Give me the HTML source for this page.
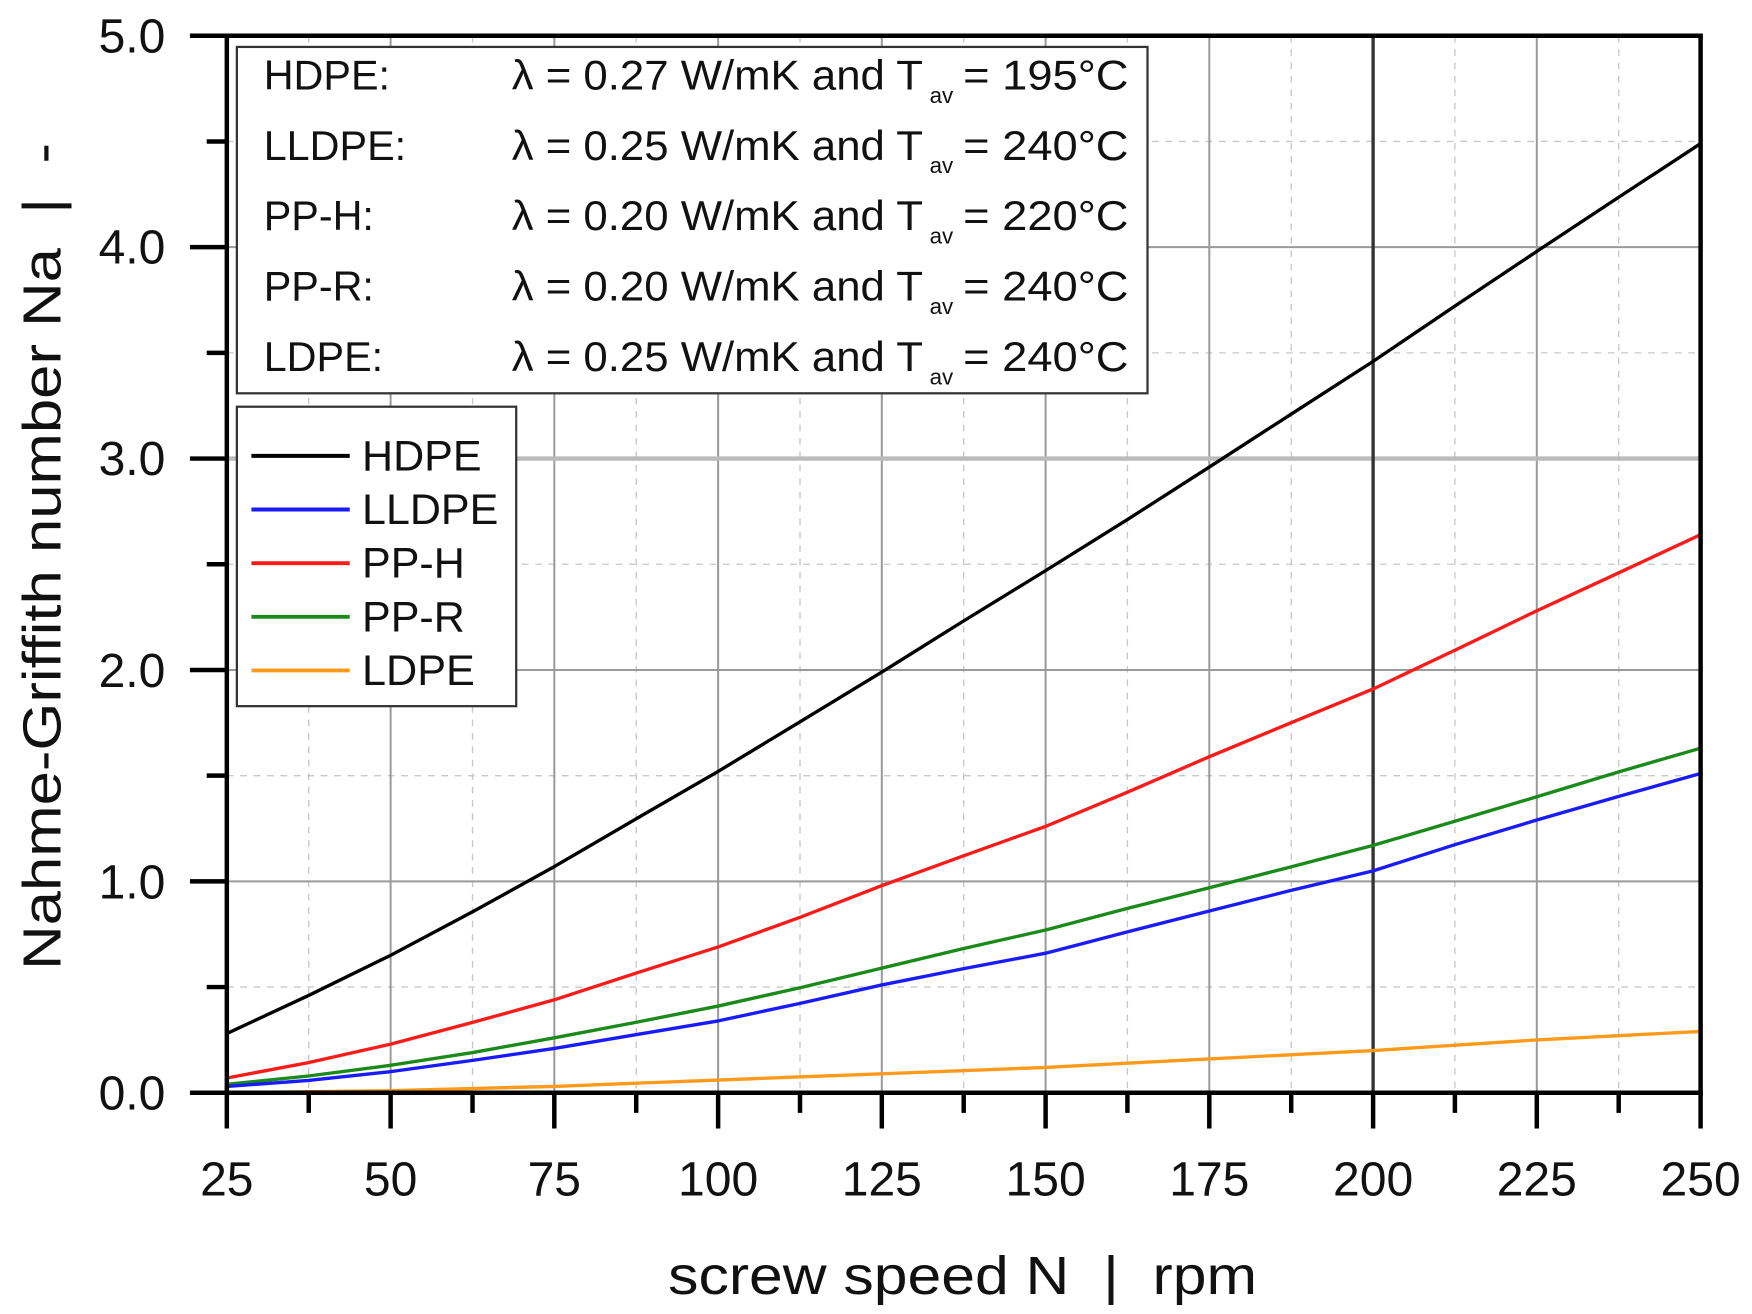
<!DOCTYPE html>
<html><head><meta charset="utf-8"><style>
html,body{margin:0;padding:0;background:#fff;}
svg{display:block;}
text{font-family:"Liberation Sans",Arial,sans-serif;fill:#111;white-space:pre;}
</style></head><body>
<svg width="1752" height="1314" viewBox="0 0 1568 1176" xmlns="http://www.w3.org/2000/svg">
<rect width="1568" height="1176" fill="#fff"/>
<g stroke="#c8c8c8" stroke-width="1.2" stroke-dasharray="6,6">
<line x1="276.3" y1="32" x2="276.3" y2="978"/><line x1="422.9" y1="32" x2="422.9" y2="978"/><line x1="569.4" y1="32" x2="569.4" y2="978"/><line x1="716" y1="32" x2="716" y2="978"/><line x1="862.5" y1="32" x2="862.5" y2="978"/><line x1="1009" y1="32" x2="1009" y2="978"/><line x1="1155.6" y1="32" x2="1155.6" y2="978"/><line x1="1302.1" y1="32" x2="1302.1" y2="978"/><line x1="1448.7" y1="32" x2="1448.7" y2="978"/>
<line x1="203" y1="883.4" x2="1522" y2="883.4"/><line x1="203" y1="694.2" x2="1522" y2="694.2"/><line x1="203" y1="505" x2="1522" y2="505"/><line x1="203" y1="315.8" x2="1522" y2="315.8"/><line x1="203" y1="126.6" x2="1522" y2="126.6"/>
</g>
<g stroke="#9a9a9a" stroke-width="1.8">
<line x1="349.6" y1="32" x2="349.6" y2="978"/><line x1="496.1" y1="32" x2="496.1" y2="978"/><line x1="642.7" y1="32" x2="642.7" y2="978"/><line x1="789.2" y1="32" x2="789.2" y2="978"/><line x1="935.8" y1="32" x2="935.8" y2="978"/><line x1="1082.3" y1="32" x2="1082.3" y2="978"/><line x1="1375.4" y1="32" x2="1375.4" y2="978"/>
<line x1="203" y1="788.8" x2="1522" y2="788.8"/><line x1="203" y1="599.6" x2="1522" y2="599.6"/><line x1="203" y1="221.2" x2="1522" y2="221.2"/>
</g>
<line x1="203" y1="410.4" x2="1522" y2="410.4" stroke="#bbb" stroke-width="4"/>
<line x1="1228.9" y1="32" x2="1228.9" y2="978" stroke="#333" stroke-width="3"/>
<g fill="none" stroke-width="3" stroke-linejoin="round">
<polyline stroke="#000" points="203,925 276,891 349.6,855 423,816 496.1,775.6 569,733 642.7,690.4 716,646 789.2,601.5 862,556 935.8,510.7 1009,465 1082.3,418 1155,371 1228.9,323.4 1302,274 1375.4,225 1448,177 1522,128.5"/>
<polyline stroke="#ff1a1a" points="203,964.8 276,951 349.6,934.5 423,915 496.1,894.8 569,871 642.7,847.5 716,821 789.2,792.6 862,766 935.8,739.6 1009,709 1082.3,677.2 1155,647 1228.9,616.6 1302,582 1375.4,546.6 1448,513 1522,478.5"/>
<polyline stroke="#1a8a1a" points="203,970.4 276,963 349.6,953.4 423,942 496.1,928.8 569,915 642.7,900.4 716,884 789.2,866.4 862,849 935.8,832.3 1009,813 1082.3,794.5 1155,776 1228.9,756.6 1302,735 1375.4,713.1 1448,691 1522,669.6"/>
<polyline stroke="#1a1aff" points="203,972.3 276,967 349.6,959.1 423,949 496.1,938.3 569,926 642.7,913.7 716,898 789.2,881.5 862,867 935.8,853.1 1009,834 1082.3,815.3 1155,797 1228.9,779.4 1302,756 1375.4,733.9 1448,713 1522,692.3"/>
<polyline stroke="#ff9a1a" points="203,978 349.6,976.1 496.1,972.3 642.7,966.6 789.2,961 935.8,955.3 1082.3,947.7 1228.9,940.2 1375.4,930.7 1522,923.1"/>
</g>
<g stroke="#000" stroke-width="4" fill="none">
<line x1="170" y1="32" x2="1524" y2="32"/>
<line x1="1522" y1="32" x2="1522" y2="980"/>
<line x1="203" y1="30" x2="203" y2="1010"/>
<line x1="170" y1="978" x2="1524" y2="978"/>
</g>
<g stroke="#000" stroke-width="4">
<line x1="170" y1="788.8" x2="203" y2="788.8"/><line x1="170" y1="599.6" x2="203" y2="599.6"/><line x1="170" y1="410.4" x2="203" y2="410.4"/><line x1="170" y1="221.2" x2="203" y2="221.2"/>
<line x1="185" y1="883.4" x2="203" y2="883.4"/><line x1="185" y1="694.2" x2="203" y2="694.2"/><line x1="185" y1="505" x2="203" y2="505"/><line x1="185" y1="315.8" x2="203" y2="315.8"/><line x1="185" y1="126.6" x2="203" y2="126.6"/>
</g>
<g stroke="#000" stroke-width="4">
<line x1="349.6" y1="978" x2="349.6" y2="1010"/><line x1="496.1" y1="978" x2="496.1" y2="1010"/><line x1="642.7" y1="978" x2="642.7" y2="1010"/><line x1="789.2" y1="978" x2="789.2" y2="1010"/><line x1="935.8" y1="978" x2="935.8" y2="1010"/><line x1="1082.3" y1="978" x2="1082.3" y2="1010"/><line x1="1228.9" y1="978" x2="1228.9" y2="1010"/><line x1="1375.4" y1="978" x2="1375.4" y2="1010"/><line x1="1522" y1="978" x2="1522" y2="1010"/>
<line x1="276.3" y1="978" x2="276.3" y2="996"/><line x1="422.9" y1="978" x2="422.9" y2="996"/><line x1="569.4" y1="978" x2="569.4" y2="996"/><line x1="716" y1="978" x2="716" y2="996"/><line x1="862.5" y1="978" x2="862.5" y2="996"/><line x1="1009" y1="978" x2="1009" y2="996"/><line x1="1155.6" y1="978" x2="1155.6" y2="996"/><line x1="1302.1" y1="978" x2="1302.1" y2="996"/><line x1="1448.7" y1="978" x2="1448.7" y2="996"/>
</g>
<g font-size="43" text-anchor="end">
<text x="148" y="993">0.0</text><text x="148" y="804">1.0</text><text x="148" y="615">2.0</text><text x="148" y="425">3.0</text><text x="148" y="236">4.0</text><text x="148" y="47">5.0</text>
</g>
<g font-size="43" text-anchor="middle">
<text x="203" y="1070">25</text><text x="349.6" y="1070">50</text><text x="496.1" y="1070">75</text><text x="642.7" y="1070">100</text><text x="789.2" y="1070">125</text><text x="935.8" y="1070">150</text><text x="1082.3" y="1070">175</text><text x="1228.9" y="1070">200</text><text x="1375.4" y="1070">225</text><text x="1522" y="1070">250</text>
</g>
<text x="598" y="1158" font-size="48" textLength="527" lengthAdjust="spacingAndGlyphs">screw speed N  |  rpm</text>
<text transform="translate(54,868) rotate(-90)" font-size="48" textLength="740" lengthAdjust="spacingAndGlyphs">Nahme-Griffith number Na  |  -</text>
<rect x="212" y="42" width="815" height="310" fill="#fff" stroke="#333" stroke-width="2"/>
<g font-size="37">
<text x="236" y="80">HDPE:</text><text x="236" y="143">LLDPE:</text><text x="236" y="206">PP-H:</text><text x="236" y="269">PP-R:</text><text x="236" y="332">LDPE:</text>
<text x="458" y="80" textLength="368" lengthAdjust="spacingAndGlyphs">λ = 0.27 W/mK and T</text><text x="832" y="92" font-size="20">av</text><text x="862" y="80" textLength="148" lengthAdjust="spacingAndGlyphs">= 195°C</text>
<text x="458" y="143" textLength="368" lengthAdjust="spacingAndGlyphs">λ = 0.25 W/mK and T</text><text x="832" y="155" font-size="20">av</text><text x="862" y="143" textLength="148" lengthAdjust="spacingAndGlyphs">= 240°C</text>
<text x="458" y="206" textLength="368" lengthAdjust="spacingAndGlyphs">λ = 0.20 W/mK and T</text><text x="832" y="218" font-size="20">av</text><text x="862" y="206" textLength="148" lengthAdjust="spacingAndGlyphs">= 220°C</text>
<text x="458" y="269" textLength="368" lengthAdjust="spacingAndGlyphs">λ = 0.20 W/mK and T</text><text x="832" y="281" font-size="20">av</text><text x="862" y="269" textLength="148" lengthAdjust="spacingAndGlyphs">= 240°C</text>
<text x="458" y="332" textLength="368" lengthAdjust="spacingAndGlyphs">λ = 0.25 W/mK and T</text><text x="832" y="344" font-size="20">av</text><text x="862" y="332" textLength="148" lengthAdjust="spacingAndGlyphs">= 240°C</text>
</g>
<rect x="212" y="364" width="250" height="268" fill="#fff" stroke="#333" stroke-width="2"/>
<g stroke-width="3.5">
<line x1="225" y1="408" x2="313" y2="408" stroke="#000"/>
<line x1="225" y1="456" x2="313" y2="456" stroke="#1a1aff"/>
<line x1="225" y1="504" x2="313" y2="504" stroke="#ff1a1a"/>
<line x1="225" y1="552" x2="313" y2="552" stroke="#1a8a1a"/>
<line x1="225" y1="600" x2="313" y2="600" stroke="#ff9a1a"/>
</g>
<g font-size="38">
<text x="324" y="421" textLength="107" lengthAdjust="spacingAndGlyphs">HDPE</text><text x="324" y="469" textLength="122" lengthAdjust="spacingAndGlyphs">LLDPE</text><text x="324" y="517" textLength="92" lengthAdjust="spacingAndGlyphs">PP-H</text><text x="324" y="565" textLength="92" lengthAdjust="spacingAndGlyphs">PP-R</text><text x="324" y="613" textLength="101" lengthAdjust="spacingAndGlyphs">LDPE</text>
</g>
</svg>
</body></html>
